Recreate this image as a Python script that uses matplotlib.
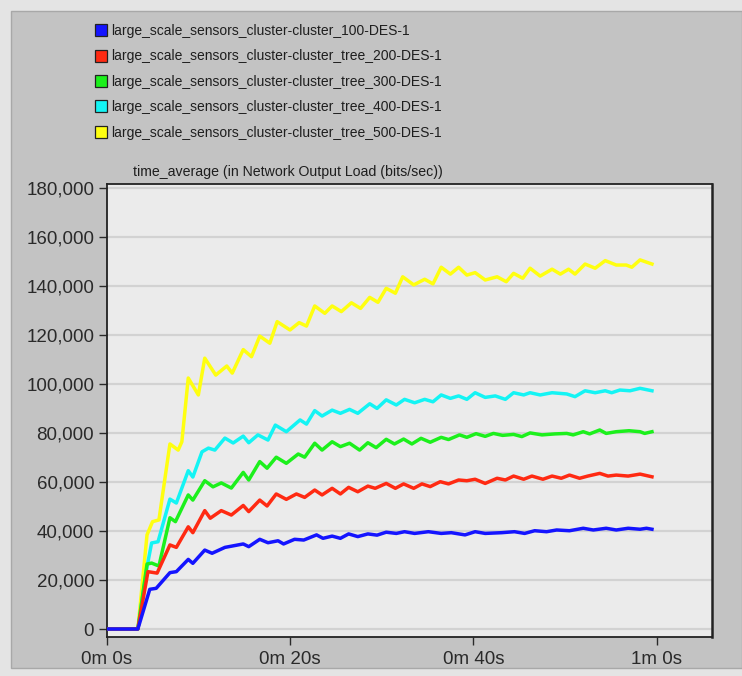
import numpy as np
import matplotlib
matplotlib.use("Agg")
import matplotlib.pyplot as plt
from matplotlib.lines import Line2D
from matplotlib.patches import Rectangle
from matplotlib.ticker import FuncFormatter

plt.rcParams['font.family'] = ['Liberation Sans', 'DejaVu Sans']

# series: time (s) and Network Output Load (bits/sec)
t_100 = [0, 3.4, 4.7, 5.4, 6.9, 7.6, 8.9, 9.4, 10.7, 11.5, 12.9, 14.9, 15.5, 16.7, 17.6,
         18.7, 19.3, 20.5, 21.5, 22.9, 23.6, 24.6, 25.5, 26.4, 27.4, 28.5, 29.5, 30.5,
         31.6, 32.5, 33.6, 35.1, 36.5, 37.6, 39.1, 40.2, 41.3, 43.1, 44.5, 45.6, 46.7,
         48.0, 49.1, 50.5, 52.0, 53.1, 54.5, 55.6, 56.9, 58.2, 58.9, 59.5]
v_100 = [0, 0, 16200, 16600, 23000, 23400, 28400, 26800, 32200, 30900, 33300, 34700,
         33600, 36600, 35200, 36000, 34700, 36600, 36300, 38400, 37000, 37900, 37000,
         38800, 37700, 38800, 38300, 39500, 39000, 39700, 39000, 39700, 39000, 39300,
         38400, 39700, 39000, 39300, 39700, 39000, 40100, 39700, 40400, 40100, 41100,
         40400, 41100, 40400, 41100, 40700, 41100, 40700]

t_200 = [0, 3.4, 4.5, 5.5, 6.9, 7.6, 8.9, 9.4, 10.7, 11.3, 12.5, 13.6, 14.9, 15.5, 16.7,
         17.5, 18.5, 19.6, 20.7, 21.6, 22.7, 23.5, 24.6, 25.5, 26.4, 27.4, 28.5, 29.3,
         30.5, 31.5, 32.4, 33.5, 34.4, 35.3, 36.4, 37.3, 38.4, 39.3, 40.2, 41.3, 42.6,
         43.5, 44.4, 45.5, 46.4, 47.6, 48.6, 49.6, 50.5, 51.6, 52.5, 53.8, 54.7, 55.6,
         56.9, 58.2, 59.5]
v_200 = [0, 0, 23400, 22800, 34300, 33300, 41700, 39300, 48300, 45200, 48300, 46500,
         50400, 47900, 52600, 50200, 55100, 52900, 55100, 53700, 56700, 54700, 57400,
         55100, 57800, 56000, 58300, 57400, 59400, 57400, 59200, 57400, 59200, 58100,
         60100, 59200, 60800, 60500, 61100, 59400, 61500, 60800, 62400, 61100, 62400,
         61100, 62400, 61500, 62800, 61500, 62400, 63500, 62400, 62800, 62400, 63200,
         62100]

t_300 = [0, 3.4, 4.4, 4.9, 5.7, 6.9, 7.5, 8.9, 9.4, 10.7, 11.6, 12.5, 13.6, 14.9, 15.5,
         16.7, 17.5, 18.5, 19.6, 20.9, 21.6, 22.7, 23.5, 24.6, 25.5, 26.5, 27.6, 28.5,
         29.4, 30.5, 31.4, 32.4, 33.3, 34.3, 35.3, 36.5, 37.3, 38.5, 39.3, 40.3, 41.3,
         42.2, 43.2, 44.4, 45.3, 46.2, 47.5, 48.9, 50.2, 50.9, 52.0, 52.7, 53.8, 54.5,
         55.6, 57.0, 58.2, 58.7, 59.5]
v_300 = [0, 0, 26500, 26900, 25700, 45400, 43800, 54700, 52600, 60500, 58000, 59600,
         57500, 63900, 60800, 68300, 65600, 70100, 67600, 71400, 70100, 75800, 73000,
         76400, 74400, 75800, 73000, 76000, 74000, 77400, 75500, 77500, 75500, 77800,
         76200, 78200, 77300, 79200, 78200, 79700, 78600, 79800, 79000, 79400, 78500,
         80000, 79200, 79600, 79800, 79200, 80500, 79600, 81200, 79800, 80500, 80900,
         80500, 79800, 80500]

t_400 = [0, 3.4, 4.4, 4.9, 5.6, 6.9, 7.6, 8.9, 9.4, 10.4, 11.1, 11.8, 12.9, 13.8, 14.9,
         15.5, 16.5, 17.6, 18.4, 19.6, 21.1, 21.8, 22.7, 23.5, 24.6, 25.5, 26.5, 27.4,
         28.7, 29.5, 30.5, 31.6, 32.5, 33.6, 34.7, 35.6, 36.5, 37.5, 38.4, 39.3, 40.2,
         41.3, 42.4, 43.5, 44.4, 45.5, 46.2, 47.3, 48.6, 50.2, 51.1, 52.2, 53.3, 54.4,
         55.1, 56.0, 57.1, 58.2, 59.5]
v_400 = [0, 0, 25400, 35100, 35600, 53000, 51400, 64600, 62000, 72300, 73800, 73000,
         77900, 75900, 78700, 76000, 79200, 77100, 83200, 80500, 85300, 83600, 89100,
         86900, 89300, 88000, 89600, 88000, 91900, 90000, 93500, 91400, 93700, 92300,
         93700, 92700, 95500, 94100, 95100, 93700, 96400, 94500, 95100, 93700, 96400,
         95500, 96400, 95500, 96400, 95900, 94800, 97200, 96400, 97200, 96400, 97500,
         97200, 98200, 97200]

t_500 = [0, 3.4, 4.4, 5.0, 5.7, 6.9, 7.8, 8.2, 8.9, 10.0, 10.7, 11.9, 13.1, 13.7, 14.9,
         15.8, 16.7, 17.8, 18.6, 20.0, 21.0, 21.8, 22.7, 23.8, 24.6, 25.6, 26.7, 27.7,
         28.7, 29.6, 30.5, 31.5, 32.3, 33.5, 34.7, 35.6, 36.5, 37.5, 38.4, 39.3, 40.2,
         41.3, 42.6, 43.6, 44.4, 45.4, 46.2, 47.3, 48.6, 49.5, 50.4, 51.1, 52.2, 53.3,
         54.4, 55.6, 56.7, 57.3, 58.2, 59.5]
v_500 = [0, 0, 38400, 43800, 44500, 75500, 73000, 76400, 102400, 95500, 110500, 103600,
         107300, 104400, 114000, 111100, 119500, 116600, 125400, 122000, 125000, 123600,
         131800, 128800, 131800, 129500, 133100, 130800, 135300, 133300, 139000, 137000,
         143700, 140400, 142700, 140800, 147600, 144800, 147600, 144400, 145400, 142400,
         143700, 141700, 145100, 143100, 147200, 144000, 146800, 144800, 146800, 144800,
         148900, 147200, 150300, 148500, 148500, 147600, 150600, 148900]

labels = ["large_scale_sensors_cluster-cluster_100-DES-1",
          "large_scale_sensors_cluster-cluster_tree_200-DES-1",
          "large_scale_sensors_cluster-cluster_tree_300-DES-1",
          "large_scale_sensors_cluster-cluster_tree_400-DES-1",
          "large_scale_sensors_cluster-cluster_tree_500-DES-1"]
colors = ["#1414ff", "#ff2a12", "#1cf01c", "#14f4f4", "#ffff10"]
series = [(t_100, v_100), (t_200, v_200), (t_300, v_300), (t_400, v_400), (t_500, v_500)]

xtick_pos = [0, 20, 40, 60]
xtick_labels = ["0m 0s", "0m 20s", "0m 40s", "1m 0s"]
ytick_pos = [0, 20000, 40000, 60000, 80000, 100000, 120000, 140000, 160000, 180000]

W, H = 742, 676
fig = plt.figure(figsize=(W / 100, H / 100), dpi=100, facecolor="#e4e4e4")
# grey panel behind everything
fig.patches.append(Rectangle((11 / W, 8 / H), (W - 11) / W, (H - 19) / H,
                             transform=fig.transFigure, facecolor="#c3c3c3",
                             edgecolor="#a8a8a8", lw=1, zorder=-5))

ax = fig.add_axes([106.7 / W, 1 - 637 / H, (712 - 106.7) / W, (637 - 184) / H])
ax.set_zorder(2)
ax.set_facecolor("#ebebeb")

# draw yellow first so blue ends up on top
for (t, v), c in reversed(list(zip(series, colors))):
    ax.plot(t, v, color=c, lw=2.5, solid_joinstyle="round", zorder=3)

ax.set_xlim(0, 66.05)
ax.set_ylim(-3260, 181560)
ax.set_xticks(xtick_pos)
ax.set_xticklabels(xtick_labels)
ax.set_yticks(ytick_pos)
ax.yaxis.set_major_formatter(FuncFormatter(lambda v, p: f"{v:,.0f}"))
ax.grid(axis="y", color="#d2d2d2", lw=1.6, zorder=1)
ax.set_axisbelow(True)
ax.tick_params(axis="both", labelsize=13.5, colors="#2a2a2a", length=6, width=1, direction="out")
ax.tick_params(axis="y", pad=3)
ax.tick_params(axis="x", pad=4)
for s in ax.spines.values():
    s.set_color("#222222")
    s.set_linewidth(1.3)
ax.spines["right"].set_linewidth(1.8)

fig.text(288 / W, 1 - 172 / H, "time_average (in Network Output Load (bits/sec))",
         ha="center", va="center", fontsize=10.2, color="#1e1e1e")

handles = [Line2D([], [], ls="none", marker="s", markersize=8, markerfacecolor=c,
                  markeredgecolor="#222222", markeredgewidth=0.9) for c in colors]
fig.legend(handles, labels, loc="upper left", bbox_to_anchor=(95 / W, 1 - 24 / H),
           frameon=False, fontsize=10, handlelength=0.8, handletextpad=0.35,
           labelspacing=0.82, borderpad=0, borderaxespad=0, labelcolor="#1e1e1e")

fig.savefig("out.png", dpi=100, facecolor=fig.get_facecolor())
